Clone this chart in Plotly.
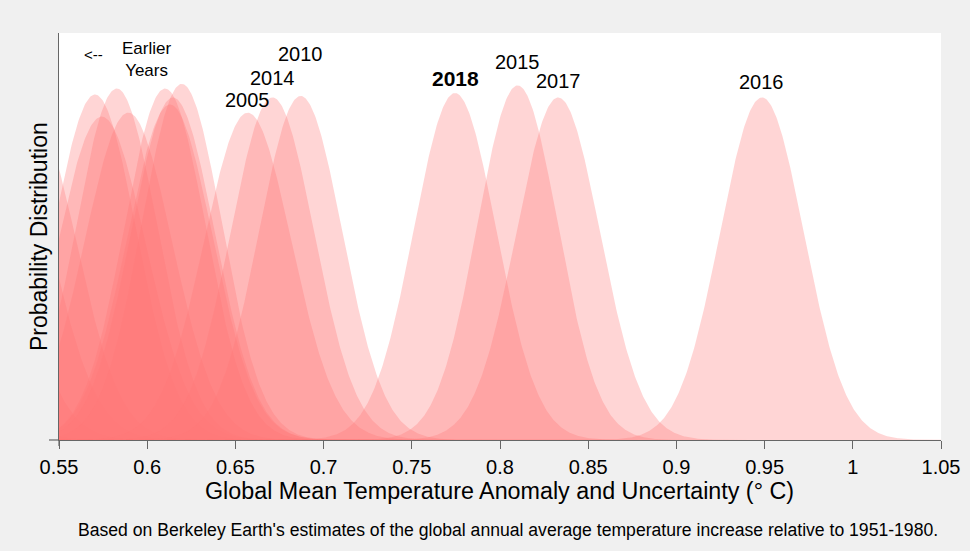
import numpy as np
import plotly.graph_objects as go

# ---- data ----
# labelled years: mean anomaly (deg C) and 1-sigma uncertainty
labeled_years = ["2005", "2014", "2010", "2018", "2015", "2017", "2016"]
labeled_means = [0.657, 0.671, 0.687, 0.7745, 0.810, 0.833, 0.9485]
labeled_sigmas = [0.0248, 0.0237, 0.0236, 0.0234, 0.0229, 0.0237, 0.0237]

# earlier (unlabelled) years
earlier_means = [0.45, 0.47, 0.50, 0.52, 0.535, 0.5704, 0.5742, 0.5827, 0.5893,
                 0.6101, 0.6129, 0.6146, 0.6196]
earlier_sigmas = [0.028, 0.027, 0.026, 0.026, 0.025, 0.0235, 0.0251, 0.0231, 0.0248,
                  0.0231, 0.0242, 0.0237, 0.0228]

x_ticks = [0.55, 0.6, 0.65, 0.7, 0.75, 0.8, 0.85, 0.9, 0.95, 1.0, 1.05]
x_tick_labels = ["0.55", "0.6", "0.65", "0.7", "0.75", "0.8", "0.85", "0.9", "0.95", "1", "1.05"]

FILL = "rgba(255,120,120,0.31)"
FONT = "Liberation Sans, Arial, Helvetica, sans-serif"
AXIS = "#666666"

grid = np.linspace(0.35, 1.15, 1601)


def normal_pdf(m, s):
    return np.exp(-0.5 * ((grid - m) / s) ** 2) / (s * np.sqrt(2 * np.pi))


fig = go.Figure()
for m, s in zip(earlier_means, earlier_sigmas):
    fig.add_trace(go.Scatter(x=grid, y=normal_pdf(m, s), mode="lines", fill="tozeroy",
                             fillcolor=FILL, line=dict(width=0), hoverinfo="skip",
                             showlegend=False))
for yr, m, s in zip(labeled_years, labeled_means, labeled_sigmas):
    fig.add_trace(go.Scatter(x=grid, y=normal_pdf(m, s), mode="lines", fill="tozeroy",
                             fillcolor=FILL, line=dict(width=0), name=yr,
                             showlegend=False))

# year labels above peaks (y in data units)
label_y = {"2010": 18.97, "2014": 17.81, "2005": 16.73, "2018": 17.75,
           "2015": 18.59, "2017": 17.64, "2016": 17.59}
annotations = []
for yr, m in zip(labeled_years, labeled_means):
    txt = "<b>%s</b>" % yr if yr == "2018" else yr
    annotations.append(dict(x=m, y=label_y[yr], xref="x", yref="y", text=txt,
                            showarrow=False, yanchor="middle", xanchor="center",
                            font=dict(size=21 if yr == "2018" else 20, color="black", family=FONT)))
annotations.append(dict(x=0.5698, y=18.95, xref="x", yref="y", text="<--", showarrow=False,
                        font=dict(size=15, color="black", family=FONT)))
annotations.append(dict(x=0.5996, y=18.7, xref="x", yref="y", text="Earlier<br>Years",
                        showarrow=False, align="center",
                        font=dict(size=17, color="black", family=FONT)))
# axis titles and caption
annotations.append(dict(x=0.4989, y=-0.1253, xref="paper", yref="paper",
                        xanchor="center", yanchor="middle", showarrow=False,
                        text="Global Mean Temperature Anomaly and Uncertainty (° C)",
                        font=dict(size=23.3, family=FONT, color="black")))
annotations.append(dict(x=-0.0227, y=0.501, xref="paper", yref="paper", textangle=-90,
                        xanchor="center", yanchor="middle", showarrow=False,
                        text="Probability Distribution",
                        font=dict(size=23, family=FONT, color="black")))
annotations.append(dict(x=0.509, y=-0.2211, xref="paper", yref="paper",
                        xanchor="center", yanchor="middle", showarrow=False,
                        text="Based on Berkeley Earth's estimates of the global annual average temperature increase relative to 1951-1980.",
                        font=dict(size=17.6, family=FONT, color="black")))

fig.update_layout(
    width=970, height=551,
    margin=dict(l=59, r=29, t=33, b=111, autoexpand=False),
    paper_bgcolor="#f0f0f0",
    plot_bgcolor="white",
    font=dict(family=FONT, color="black"),
    showlegend=False,
    annotations=annotations,
)

fig.update_xaxes(range=[0.55, 1.05], tickvals=x_ticks, ticktext=x_tick_labels,
                 ticks="outside", ticklen=8, tickcolor=AXIS, tickwidth=1.2,
                 showline=True, linecolor=AXIS, linewidth=1.2,
                 showgrid=False, zeroline=False, automargin=False,
                 tickfont=dict(size=20, family=FONT, color="black"),
                 ticklabelstandoff=1)
fig.update_yaxes(range=[0, 20], showticklabels=False, ticks="", showgrid=False,
                 zeroline=False, showline=True, linecolor=AXIS, linewidth=1.2,
                 automargin=False)

# small axis-line extensions at the lower-left corner
fig.add_shape(type="line", xref="paper", yref="paper", x0=-10 / 882, x1=0, y0=0, y1=0,
              line=dict(color=AXIS, width=1.2))
fig.add_shape(type="line", xref="paper", yref="paper", x0=0, x1=0, y0=-6 / 407, y1=0,
              line=dict(color=AXIS, width=1.2))

fig.write_html("out.html", config={"displayModeBar": False},
               post_script="document.body.style.margin='0';document.body.style.overflow='hidden';")
